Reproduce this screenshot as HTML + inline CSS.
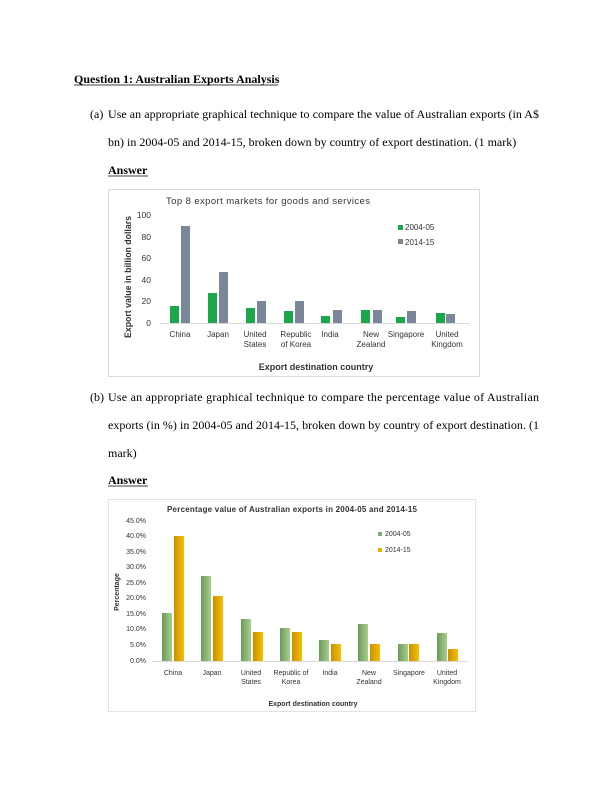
<!DOCTYPE html>
<html><head><meta charset="utf-8"><style>
html,body{margin:0;padding:0;background:#fff;}
svg{display:block}
.t{font-family:"Liberation Serif",serif;font-size:12px;fill:#000}
.s{font-family:"Liberation Sans",sans-serif;fill:#333}
</style></head><body>
<svg width="612" height="792" viewBox="0 0 612 792" xmlns="http://www.w3.org/2000/svg">
<rect width="612" height="792" fill="#fff"/>
<text class="t" x="74" y="83" font-weight="bold">Question 1: Australian Exports Analysis</text>
<line x1="74" y1="85" x2="278" y2="85" stroke="#000" stroke-width="0.8"/>
<text class="t" x="90" y="118">(a)</text>
<text class="t" x="108" y="118" textLength="431" lengthAdjust="spacing">Use an appropriate graphical technique to compare the value of Australian exports (in A$</text>
<text class="t" x="108" y="146">bn) in 2004-05 and 2014-15, broken down by country of export destination. (1 mark)</text>
<text class="t" x="108" y="174" font-weight="bold">Answer</text>
<line x1="108" y1="176" x2="148" y2="176" stroke="#000" stroke-width="0.8"/>

<!-- chart 1 -->
<rect x="108.5" y="189.5" width="371" height="187" fill="#fff" stroke="#d9d9d9"/>
<text class="s" x="166" y="204" font-size="9.5" fill="#000" textLength="204" lengthAdjust="spacing">Top 8 export markets for goods and services</text>
<g class="s" font-size="8.5" text-anchor="end">
<text x="151" y="218">100</text><text x="151" y="240">80</text><text x="151" y="261">60</text><text x="151" y="283">40</text><text x="151" y="304">20</text><text x="151" y="326">0</text>
</g>
<line x1="160" y1="323.5" x2="470" y2="323.5" stroke="#d9d9d9"/>
<text class="s" x="0" y="0" font-size="9" font-weight="bold" fill="#000" transform="translate(131,277) rotate(-90)" text-anchor="middle" textLength="122" lengthAdjust="spacingAndGlyphs">Export value in billion dollars</text>
<g fill="#1aa84a">
<rect x="170" y="306" width="9" height="17"/><rect x="208" y="293" width="9" height="30"/><rect x="246" y="308" width="9" height="15"/><rect x="284" y="311" width="9" height="12"/><rect x="321" y="316" width="9" height="7"/><rect x="361" y="310" width="9" height="13"/><rect x="396" y="317" width="9" height="6"/><rect x="436" y="313" width="9" height="10"/>
</g>
<g fill="#7a8799">
<rect x="181" y="226" width="9" height="97"/><rect x="219" y="272" width="9" height="51"/><rect x="257" y="301" width="9" height="22"/><rect x="295" y="301" width="9" height="22"/><rect x="333" y="310" width="9" height="13"/><rect x="373" y="310" width="9" height="13"/><rect x="407" y="311" width="9" height="12"/><rect x="446" y="314" width="9" height="9"/>
</g>
<g class="s" font-size="8" text-anchor="middle">
<text x="180" y="337">China</text><text x="218" y="337">Japan</text><text x="255" y="337">United</text><text x="255" y="347">States</text><text x="296" y="337">Republic</text><text x="296" y="347">of Korea</text><text x="330" y="337">India</text><text x="371" y="337">New</text><text x="371" y="347">Zealand</text><text x="406" y="337">Singapore</text><text x="447" y="337">United</text><text x="447" y="347">Kingdom</text>
</g>
<text class="s" x="316" y="370" font-size="9" font-weight="bold" fill="#000" text-anchor="middle">Export destination country</text>
<rect x="398" y="225" width="5" height="5" fill="#1aa84a"/><text class="s" x="405" y="230" font-size="8">2004-05</text>
<rect x="398" y="239" width="5" height="5" fill="#7a8799"/><text class="s" x="405" y="245" font-size="8">2014-15</text>

<text class="t" x="90" y="401">(b)</text>
<text class="t" x="108" y="401" textLength="431" lengthAdjust="spacing">Use an appropriate graphical technique to compare the percentage value of Australian</text>
<text class="t" x="108" y="429" textLength="431" lengthAdjust="spacing">exports (in %) in 2004-05 and 2014-15, broken down by country of export destination. (1</text>
<text class="t" x="108" y="457">mark)</text>
<text class="t" x="108" y="484" font-weight="bold">Answer</text>
<line x1="108" y1="486" x2="148" y2="486" stroke="#000" stroke-width="0.8"/>

<!-- chart 2 -->
<defs>
<linearGradient id="gg" x1="0" x2="1"><stop offset="0" stop-color="#6b9a5a"/><stop offset="1" stop-color="#a9cf8e"/></linearGradient>
<linearGradient id="yg" x1="0" x2="1"><stop offset="0" stop-color="#c99000"/><stop offset="1" stop-color="#f5c000"/></linearGradient>
</defs>
<rect x="108.5" y="499.5" width="367" height="212" fill="#fff" stroke="#e3e3e3"/>
<text class="s" x="292" y="512" font-size="8" font-weight="bold" fill="#000" text-anchor="middle" textLength="250" lengthAdjust="spacing">Percentage value of Australian exports in 2004-05 and 2014-15</text>
<g class="s" font-size="7" text-anchor="end" fill="#444">
<text x="146" y="523">45.0%</text><text x="146" y="538">40.0%</text><text x="146" y="554">35.0%</text><text x="146" y="569">30.0%</text><text x="146" y="585">25.0%</text><text x="146" y="600">20.0%</text><text x="146" y="616">15.0%</text><text x="146" y="631">10.0%</text><text x="146" y="647">5.0%</text><text x="146" y="663">0.0%</text>
</g>
<line x1="152" y1="661.5" x2="468" y2="661.5" stroke="#d9d9d9"/>
<text class="s" x="0" y="0" font-size="7" font-weight="bold" fill="#000" transform="translate(119,592) rotate(-90)" text-anchor="middle">Percentage</text>
<g fill="url(#gg)">
<rect x="162" y="613" width="10" height="48"/><rect x="201" y="576" width="10" height="85"/><rect x="241" y="619" width="10" height="42"/><rect x="280" y="628" width="10" height="33"/><rect x="319" y="640" width="10" height="21"/><rect x="358" y="624" width="10" height="37"/><rect x="398" y="644" width="10" height="17"/><rect x="437" y="633" width="10" height="28"/>
</g>
<g fill="url(#yg)">
<rect x="174" y="536" width="10" height="125"/><rect x="213" y="596" width="10" height="65"/><rect x="253" y="632" width="10" height="29"/><rect x="292" y="632" width="10" height="29"/><rect x="331" y="644" width="10" height="17"/><rect x="370" y="644" width="10" height="17"/><rect x="409" y="644" width="10" height="17"/><rect x="448" y="649" width="10" height="12"/>
</g>
<g class="s" font-size="7" text-anchor="middle" fill="#444">
<text x="173" y="675">China</text><text x="212" y="675">Japan</text><text x="251" y="675">United</text><text x="251" y="684">States</text><text x="291" y="675">Republic of</text><text x="291" y="684">Korea</text><text x="330" y="675">India</text><text x="369" y="675">New</text><text x="369" y="684">Zealand</text><text x="409" y="675">Singapore</text><text x="447" y="675">United</text><text x="447" y="684">Kingdom</text>
</g>
<text class="s" x="313" y="706" font-size="7" font-weight="bold" fill="#000" text-anchor="middle">Export destination country</text>
<rect x="378" y="532" width="4" height="4" fill="#7fae6a"/><text class="s" x="385" y="536" font-size="7" fill="#444">2004-05</text>
<rect x="378" y="548" width="4" height="4" fill="#e8b000"/><text class="s" x="385" y="552" font-size="7" fill="#444">2014-15</text>
</svg>
</body></html>
